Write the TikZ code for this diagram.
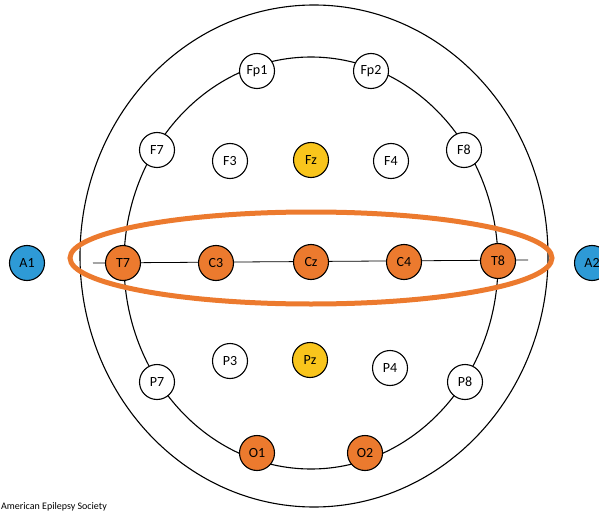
\documentclass[tikz,border=0pt]{standalone}
\usepackage{fontspec}
\setmainfont{Carlito}
\usepackage{tikz}
\usetikzlibrary{calc}
\definecolor{eegorange}{HTML}{EC7A2E}
\definecolor{eegblue}{HTML}{2E9AD6}
\definecolor{eegyellow}{HTML}{F9C51C}
\tikzstyle{electrode} = [circle, draw=black, line width=1.1pt, fill=white, minimum size=35pt, inner sep=0pt, font=\fontsize{14}{14}\selectfont]
\tikzstyle{active} = [electrode, fill=eegorange]
\tikzstyle{ref} = [electrode, fill=eegblue]
\tikzstyle{mid} = [electrode, fill=eegyellow]

\begin{document}
\begin{tikzpicture}[x=1pt,y=-1pt]
    \useasboundingbox (0,0) rectangle (599,513);

    % head outlines
    \draw[line width=1.1pt] (314,256) ellipse [x radius=234pt, y radius=251pt];
    \draw[line width=1.1pt] (311,263) ellipse [x radius=187pt, y radius=206pt];

    % montage line
    \coordinate (lend) at (93, 263);
    \coordinate (rend) at (528, 260);
    \draw[line width=0.8pt] (lend) to (rend);

    % electrodes
    \node[ref] (A1) at (27,263) {A1};
    \node[ref] (A2) at (592,263) {A2};

    \node[electrode] (Fp1) at (257,71) {Fp1};
    \node[electrode] (Fp2) at (371,71) {Fp2};
    \node[electrode] (F7) at (157,150) {F7};
    \node[electrode] (F8) at (464,150) {F8};
    \node[electrode] (F3) at (230,161) {F3};
    \node[mid] (Fz) at (311,160) {Fz};
    \node[electrode] (F4) at (391,161) {F4};

    \node[active] (T7) at (123,263) {T7};
    \node[active] (C3) at (216,263) {C3};
    \node[active] (Cz) at (311,262) {Cz};
    \node[active] (C4) at (404,262) {C4};
    \node[active] (T8) at (498,261) {T8};

    \node[electrode] (P3) at (230,361) {P3};
    \node[mid] (Pz) at (310,360) {Pz};
    \node[electrode] (P4) at (390,368) {P4};
    \node[electrode] (P7) at (157,382) {P7};
    \node[electrode] (P8) at (465,382) {P8};
    \node[active] (O1) at (257,453) {O1};
    \node[active] (O2) at (365,453) {O2};

    % highlighted chain
    \draw[eegorange, line width=5pt] (311,258) ellipse [x radius=241pt, y radius=46pt];

    \node[anchor=base west, inner sep=0pt, font=\fontsize{10}{10}\selectfont] (credit) at (1,509) {American Epilepsy Society};
\end{tikzpicture}
\end{document}
